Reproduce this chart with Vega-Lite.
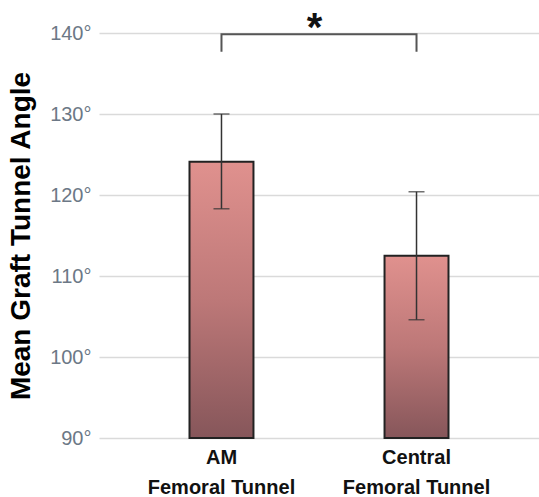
{
  "$schema": "https://vega.github.io/schema/vega-lite/v6.json",
  "width": 440,
  "height": 405,
  "autosize": {"type": "none"},
  "padding": {"left": 99, "top": 33, "right": 0, "bottom": 59},
  "background": "white",
  "config": {
    "view": {"stroke": null},
    "font": "Liberation Sans"
  },
  "datasets": {
    "bars": [
      {"group": "AM", "mean": 124.1, "lo": 118.3, "hi": 130.0},
      {"group": "Central", "mean": 112.5, "lo": 104.6, "hi": 120.4}
    ],
    "bracket": [
      {"group": "AM", "y": 137.7, "o": 1},
      {"group": "AM", "y": 139.85, "o": 2},
      {"group": "Central", "y": 139.85, "o": 3},
      {"group": "Central", "y": 137.7, "o": 4}
    ],
    "sig": [{"pos": 0.49, "y": 140.5, "label": "*"}]
  },
  "layer": [
    {
      "data": {"name": "bars"},
      "encoding": {
        "x": {
          "field": "group",
          "type": "nominal",
          "sort": ["AM", "Central"],
          "scale": {"paddingInner": 0.672, "paddingOuter": 0.464},
          "axis": {
            "title": null,
            "domain": false,
            "ticks": false,
            "grid": false,
            "labelAngle": 0,
            "labelFont": "Liberation Sans",
            "labelFontSize": 20,
            "labelFontWeight": "bold",
            "labelColor": "#111111",
            "labelPadding": 9,
            "labelLineHeight": 30,
            "labelBaseline": "top",
            "labelExpr": "datum.label == 'AM' ? ['AM', 'Femoral Tunnel'] : ['Central', 'Femoral Tunnel']"
          }
        }
      },
      "layer": [
        {
          "mark": {
            "type": "bar",
            "stroke": "#222222",
            "strokeWidth": 2,
            "color": {
              "gradient": "linear",
              "x1": 0, "y1": 0, "x2": 0, "y2": 1,
              "stops": [
                {"offset": 0, "color": "#e0918e"},
                {"offset": 0.5, "color": "#bd7878"},
                {"offset": 1, "color": "#86565a"}
              ]
            }
          },
          "encoding": {
            "y": {
              "field": "mean",
              "type": "quantitative",
              "scale": {"domain": [90, 140], "nice": false, "zero": false},
              "axis": {
                "title": "Mean Graft Tunnel Angle",
                "titleFont": "Liberation Sans",
                "titleFontSize": 28,
                "titleFontWeight": "bold",
                "titleColor": "#000000",
                "titlePadding": 14,
                "values": [90, 100, 110, 120, 130, 140],
                "labelExpr": "datum.value + '°'",
                "labelFont": "Liberation Sans",
                "labelFontSize": 20,
                "labelColor": "#6c7886",
                "labelPadding": 8,
                "domain": false,
                "ticks": false,
                "grid": true,
                "gridColor": "#dadada",
                "gridWidth": 1.5
              }
            },
            "y2": {"datum": 90}
          }
        },
        {
          "mark": {"type": "rule", "color": "#333333", "strokeWidth": 1.5},
          "encoding": {
            "y": {"field": "lo", "type": "quantitative"},
            "y2": {"field": "hi"}
          }
        },
        {
          "mark": {"type": "tick", "color": "#333333", "thickness": 1.5, "size": 16},
          "encoding": {"y": {"field": "lo", "type": "quantitative"}}
        },
        {
          "mark": {"type": "tick", "color": "#333333", "thickness": 1.5, "size": 16},
          "encoding": {"y": {"field": "hi", "type": "quantitative"}}
        },
        {
          "data": {"name": "bracket"},
          "mark": {"type": "line", "color": "#555555", "strokeWidth": 2, "strokeCap": "butt"},
          "encoding": {
            "y": {"field": "y", "type": "quantitative"},
            "order": {"field": "o", "type": "quantitative"}
          }
        }
      ]
    },
    {
      "data": {"name": "sig"},
      "mark": {"type": "text", "font": "Liberation Sans", "fontSize": 40, "fontWeight": "bold", "color": "#111111", "baseline": "middle", "align": "center"},
      "encoding": {
        "x": {"field": "pos", "type": "quantitative", "scale": {"domain": [0, 1]}, "axis": null},
        "y": {"field": "y", "type": "quantitative"},
        "text": {"field": "label"}
      }
    }
  ],
  "resolve": {"scale": {"x": "independent"}}
}
